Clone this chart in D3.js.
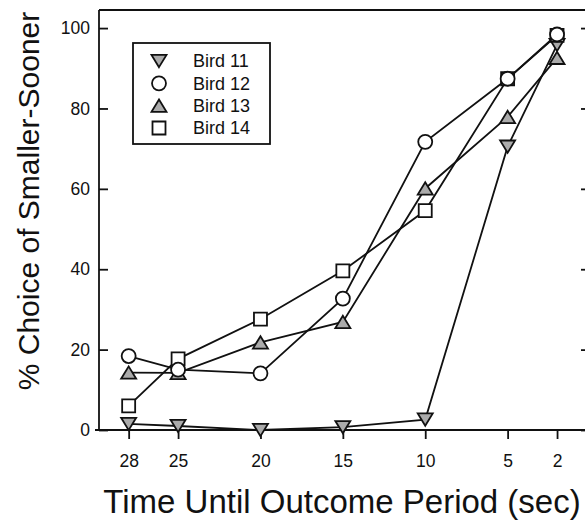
<!DOCTYPE html>
<html>
<head>
<meta charset="utf-8">
<script src="https://cdn.jsdelivr.net/npm/d3@7"></script>
<style>
  html, body { margin: 0; padding: 0; background: #fff; }
  svg { display: block; font-family: "Liberation Sans", Arial, Helvetica, sans-serif; }
</style>
</head>
<body>
<svg id="chart" width="585" height="526"></svg>
<script>
// Delay until outcome period (sec), plotted from longest to shortest
const delays = [28, 25, 20, 15, 10, 5, 2];
const yTicks = [0, 20, 40, 60, 80, 100];

// % choice of the smaller-sooner option per bird
const bird11 = [1.5, 1.0, 0, 0.7, 2.6, 70.5, 95.8];
const bird12 = [18.4, 15.0, 14.1, 32.7, 71.7, 87.4, 98.4];
const bird13 = [14.3, 14.2, 21.8, 26.9, 60.1, 77.9, 92.6];
const bird14 = [6.0, 17.7, 27.6, 39.6, 54.6, 87.4, 98.2];

const seriesNames = ["Bird 11", "Bird 12", "Bird 13", "Bird 14"];

const svg = d3.select("#chart");

const x = d3.scaleLinear().domain([29.8, 0]).range([99, 590]);
const y = d3.scaleLinear().domain([0, 104.5]).range([430, 10]);

const ink = "#111";
const stip = "#ababab";
const fontFam = "Liberation Sans, Arial, sans-serif";

// Triangles centred on their bounding box
function triangle(up) {
  return {
    draw(ctx, size) {
      const w = Math.sqrt(size);
      const h = w * 0.82;
      const s = up ? 1 : -1;
      ctx.moveTo(0, -s * h / 2);
      ctx.lineTo(w / 2, s * h / 2);
      ctx.lineTo(-w / 2, s * h / 2);
      ctx.closePath();
    }
  };
}
const markers = {
  "Bird 11": { type: triangle(false), size: 15 * 15, fill: stip },
  "Bird 12": { type: d3.symbolCircle, size: Math.PI * 7 * 7, fill: "#fff" },
  "Bird 13": { type: triangle(true), size: 15 * 15, fill: stip },
  "Bird 14": { type: d3.symbolSquare, size: 13 * 13, fill: "#fff" }
};
const values = { "Bird 11": bird11, "Bird 12": bird12, "Bird 13": bird13, "Bird 14": bird14 };

// Frame: top edge
svg.append("line").attr("x1", 99).attr("x2", 590).attr("y1", 10).attr("y2", 10)
  .attr("stroke", ink).attr("stroke-width", 1.8);

// Left axis with inward ticks
const yAxis = d3.axisLeft(y).tickValues(yTicks).tickSizeInner(-9).tickSizeOuter(0).tickPadding(9);
const gy = svg.append("g").attr("transform", "translate(99,0)").call(yAxis);
gy.select(".domain").attr("d", `M0,${y(0)}V10`).attr("stroke", ink).attr("stroke-width", 1.8);
gy.selectAll(".tick line").attr("stroke", ink).attr("stroke-width", 1.8);
gy.selectAll(".tick text").attr("font-size", 17.5).attr("fill", ink).attr("font-family", fontFam);

// Right axis ticks
const yAxisR = d3.axisRight(y).tickValues(yTicks).tickSizeInner(-9).tickSizeOuter(0).tickFormat("");
const gyr = svg.append("g").attr("transform", "translate(590,0)").call(yAxisR);
gyr.select(".domain").attr("d", `M0,${y(0)}V10`).attr("stroke", ink).attr("stroke-width", 1.8);
gyr.selectAll(".tick line").attr("stroke", ink).attr("stroke-width", 1.8);

// Bottom axis with outward ticks
const xAxis = d3.axisBottom(x).tickValues(delays).tickSizeInner(9).tickSizeOuter(0).tickPadding(16);
const gx = svg.append("g").attr("transform", `translate(0,${y(0)})`).call(xAxis);
gx.select(".domain").attr("d", "M95,0H590").attr("stroke", ink).attr("stroke-width", 1.8);
gx.selectAll(".tick line").attr("stroke", ink).attr("stroke-width", 1.8);
gx.selectAll(".tick text").attr("font-size", 17.5).attr("fill", ink).attr("font-family", fontFam);

// Axis titles
svg.append("text")
  .attr("x", 342).attr("y", 513)
  .attr("text-anchor", "middle").attr("font-size", 33).attr("fill", ink)
  .text("Time Until Outcome Period (sec)");
svg.append("text")
  .attr("transform", "translate(39,201) rotate(-90)")
  .attr("text-anchor", "middle").attr("font-size", 30).attr("fill", ink)
  .text("% Choice of Smaller-Sooner");

// Series: lines then symbols, drawn so Bird 12 sits on top
const drawOrder = ["Bird 11", "Bird 14", "Bird 13", "Bird 12"];
const line = d3.line().x((d, i) => x(delays[i])).y(d => y(d));
drawOrder.forEach(name => {
  const vals = values[name];
  const m = markers[name];
  const g = svg.append("g");
  g.append("path").attr("d", line(vals)).attr("fill", "none")
    .attr("stroke", ink).attr("stroke-width", 1.8);
  g.selectAll("path.pt").data(vals).join("path").attr("class", "pt")
    .attr("transform", (d, i) => `translate(${x(delays[i])},${y(d)})`)
    .attr("d", d3.symbol().type(m.type).size(m.size)())
    .attr("fill", m.fill).attr("stroke", ink).attr("stroke-width", 1.8);
});

// Legend
const leg = svg.append("g");
leg.append("rect").attr("x", 133).attr("y", 43).attr("width", 137).attr("height", 101)
  .attr("fill", "#fff").attr("stroke", ink).attr("stroke-width", 1.8);
const rowY = d3.scalePoint().domain(seriesNames).range([61, 128]);
seriesNames.forEach(name => {
  const m = markers[name];
  leg.append("path")
    .attr("transform", `translate(159,${rowY(name)})`)
    .attr("d", d3.symbol().type(m.type).size(m.size)())
    .attr("fill", m.fill).attr("stroke", ink).attr("stroke-width", 1.8);
  leg.append("text").attr("x", 193).attr("y", rowY(name)).attr("dy", "0.35em")
    .attr("font-size", 18).attr("fill", ink).text(name);
});
</script>
</body>
</html>
